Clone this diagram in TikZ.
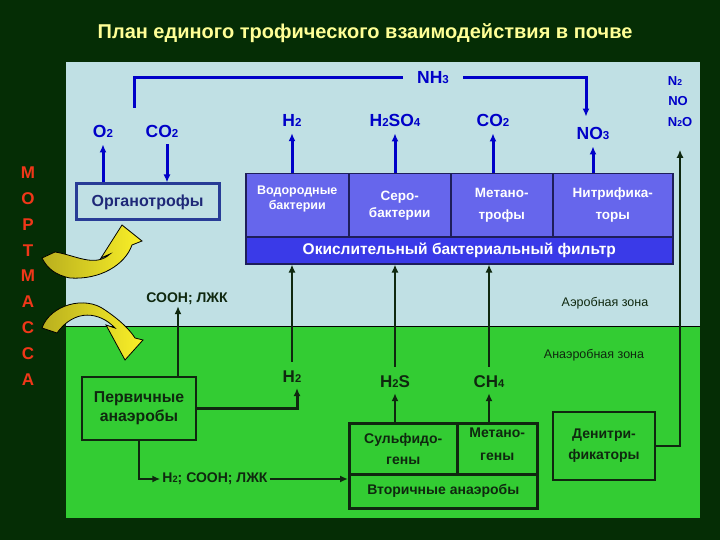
\documentclass[tikz,border=0pt]{standalone}
\usepackage{fontspec}
\setmainfont{Liberation Sans}
\usetikzlibrary{arrows.meta,positioning}

\definecolor{bgdark}{RGB}{5,45,5}
\definecolor{skyback}{RGB}{192,224,228}
\definecolor{grass}{RGB}{51,204,51}
\definecolor{cellblue}{RGB}{102,102,236}
\definecolor{filterblue}{RGB}{58,58,232}
\definecolor{cellline}{RGB}{30,30,90}
\definecolor{labelblue}{RGB}{0,0,200}
\definecolor{orgline}{RGB}{40,60,150}
\definecolor{orgtext}{RGB}{30,40,120}
\definecolor{darkink}{RGB}{15,40,15}
\definecolor{titleyellow}{RGB}{255,255,150}
\definecolor{mred}{RGB}{240,55,25}
\definecolor{arrowdim}{RGB}{185,175,30}
\definecolor{arrowlit}{RGB}{250,240,40}

\newcommand{\lo}[1]{\scalebox{0.66}{#1}}

\tikzset{
  toplbl/.style={font=\bfseries\fontsize{17.5}{19}\selectfont, text=labelblue, inner sep=1pt},
  gaslbl/.style={font=\bfseries\fontsize{13}{15}\selectfont, text=labelblue, inner sep=1pt},
  lowlbl/.style={font=\bfseries\fontsize{17}{19}\selectfont, text=darkink, inner sep=1pt},
  zonelbl/.style={font=\fontsize{12.5}{14}\selectfont, text=darkink, inner sep=1pt},
  mletter/.style={font=\bfseries\fontsize{17}{19}\selectfont, text=mred},
  bluecell/.style={draw=cellline, fill=cellblue, line width=1.5pt, anchor=north west,
    inner sep=0pt, text=white, align=center, font=\bfseries\fontsize{13.5}{17}\selectfont},
  greenbox/.style={draw=darkink, fill=grass, line width=2.5pt, inner sep=0pt,
    text=darkink, align=center, font=\bfseries\fontsize{14}{21}\selectfont},
  orgbox/.style={draw=orgline, fill=skyback, line width=3pt, inner sep=0pt,
    text=orgtext, font=\bfseries\fontsize{16}{18}\selectfont},
  blueline/.style={draw=labelblue, line width=3pt},
  blkline/.style={draw=darkink, line width=2pt},
  yarrow/.style={left color=arrowdim, right color=arrowlit, draw=black, line width=0.8pt}
}

\begin{document}
\begin{tikzpicture}[x=1pt, y=-1pt, >={Latex[length=8pt,width=7pt]}]
  \fill[bgdark] (0,0) rectangle (720,540);
  \useasboundingbox (0,0) rectangle (720,540);

  % zones
  \fill[skyback] (66,62) rectangle (700,326);
  \fill[grass] (66,326) rectangle (700,518);
  \draw[black, line width=1pt] (66,326) -- (700,326);

  \node[font=\bfseries\fontsize{20}{22}\selectfont, text=titleyellow] (title) at (365,33)
    {План единого трофического взаимодействия в почве};

  % mortmassa
  \foreach \ch [count=\i] in {М,О,Р,Т,М,А,С,С,А}
    \node[mletter] (m\i) at (28,{147+25.8*\i}) {\ch};

  % top labels
  \node[toplbl, inner xsep=14pt] (nh3) at (433,78) {NH\lo{3}};
  \node[toplbl] (o2) at (103,131) {O\lo{2}};
  \node[toplbl] (co2a) at (162,131) {CO\lo{2}};
  \node[toplbl] (h2a) at (292,120) {H\lo{2}};
  \node[toplbl] (h2so4) at (395,120) {H\lo{2}SO\lo{4}};
  \node[toplbl] (co2b) at (493,120) {CO\lo{2}};
  \node[toplbl] (no3) at (593,133) {NO\lo{3}};
  \node[gaslbl] (n2) at (675,81) {N\lo{2}};
  \node[gaslbl] (no) at (678,101) {NO};
  \node[gaslbl] (n2o) at (680,122) {N\lo{2}O};

  % aerobic organisms
  \node[orgbox, minimum width=143pt, minimum height=36pt] (organ) at (147.5,202) {Органотрофы};

  \node[bluecell, minimum width=103pt, minimum height=63pt,
    font=\bfseries\fontsize{12.5}{15}\selectfont] (vodor) at (245,173)
    {Водородные\\бактерии\\ \mbox{}};
  \node[bluecell, minimum width=102pt, minimum height=63pt] (sero) at (348,173) {Серо-\\бактерии};
  \node[bluecell, minimum width=102pt, minimum height=63pt,
    font=\bfseries\fontsize{13.5}{22}\selectfont] (metan) at (450,173) {Метано-\\трофы};
  \node[bluecell, minimum width=120pt, minimum height=63pt,
    font=\bfseries\fontsize{13.5}{22}\selectfont] (nitr) at (552,173) {Нитрифика-\\торы};
  \node[bluecell, fill=filterblue, minimum width=427pt, minimum height=27pt,
    font=\bfseries\fontsize{15.5}{17}\selectfont] (filtr) at (245,236)
    {Окислительный бактериальный фильтр};

  % lower labels
  \node[font=\bfseries\fontsize{14}{16}\selectfont, text=darkink, inner sep=1pt] (cooh) at (187,299) {СООН; ЛЖК};
  \node[zonelbl] (aer) at (605,303) {Аэробная зона};
  \node[zonelbl] (anaer) at (594,355) {Анаэробная зона};
  \node[lowlbl] (h2b) at (292,377) {H\lo{2}};
  \node[lowlbl] (h2s) at (395,382) {H\lo{2}S};
  \node[lowlbl] (ch4) at (489,382) {CH\lo{4}};
  \node[font=\bfseries\fontsize{14}{16}\selectfont, text=darkink, inner sep=2pt] (mix) at (215,479) {H\lo{2}; СООН; ЛЖК};

  % anaerobic organisms
  \node[greenbox, font=\bfseries\fontsize{15.8}{19}\selectfont, minimum width=114pt, minimum height=63pt]
    (perv) at (139,408.5) {Первичные\\анаэробы};
  \node[greenbox, anchor=north west, minimum width=108pt, minimum height=51pt] (sulf) at (348,422) {Сульфидо-\\гены};
  \node[greenbox, anchor=north west, minimum width=80pt, minimum height=51pt,
    font=\bfseries\fontsize{14}{23}\selectfont] (metg) at (456,422) {Метано-\\гены\\[-14pt]\mbox{}};
  \node[greenbox, anchor=north west, minimum width=188pt, minimum height=34pt] (vbar) at (348,473) {Вторичные анаэробы};
  \node[greenbox, minimum width=102pt, minimum height=68pt] (denitr) at (604,446) {Денитри-\\фикаторы};

  % yellow arrows
  \shadedraw[yarrow] (42,258) -- (55,252) .. controls (75,255) and (95,268) .. (110,254)
    -- (101,258) -- (122,225) -- (142,241) -- (132,245)
    .. controls (125,265) and (100,280) .. (70,278) .. controls (55,275) and (47,268) .. cycle;
  \shadedraw[yarrow] (42,328) .. controls (50,305) and (85,295) .. (105,310)
    .. controls (120,320) and (130,330) .. (135,338) -- (143,340) -- (125,360)
    -- (106,325) -- (115,328) .. controls (100,312) and (75,308) .. (57,333) -- cycle;

  % blue connectors
  \coordinate (nhleft) at (134,108);
  \draw[blueline] (nh3.west) -| (nhleft);
  \draw[blueline,->] (nh3.east) -| ([xshift=-7pt,yshift=9pt]no3.north);
  \draw[blueline,->,shorten >=6pt] (organ.north -| o2) -- (o2.south);
  \draw[blueline,->,shorten <=6pt] ([xshift=5pt]co2a.south) -- ([xshift=5pt]co2a.south |- organ.north);
  \draw[blueline,->,shorten >=6pt] (h2a |- vodor.north) -- (h2a.south);
  \draw[blueline,->,shorten >=6pt] (h2so4 |- sero.north) -- (h2so4.south);
  \draw[blueline,->,shorten >=6pt] (co2b |- metan.north) -- (co2b.south);
  \draw[blueline,->,shorten >=6pt] (no3 |- nitr.north) -- (no3.south);

  % black connectors
  \draw[blkline,->,shorten <=8pt] (h2b.north) -- (h2b.north |- filtr.south);
  \draw[blkline,->,shorten <=8pt] (h2s.north) -- (h2s.north |- filtr.south);
  \draw[blkline,->,shorten <=8pt] (ch4.north) -- (ch4.north |- filtr.south);
  \draw[blkline,->] (denitr.east) -| ([yshift=-22pt]n2o.south);
  \draw[blkline,->] ([xshift=-9pt]cooh.south |- perv.north) -- ([xshift=-9pt]cooh.south);
  \draw[blkline,->,line width=3pt] (perv.east) -| ([xshift=5pt,yshift=-4pt]h2b.south);
  \draw[blkline,->] (perv.south) |- (mix.west);
  \draw[blkline,->] (mix.east) -- (mix.east -| vbar.west);
  \draw[blkline,->] (sulf.north -| h2s) -- ([yshift=-4pt]h2s.south);
  \draw[blkline,->] (metg.north -| ch4) -- ([yshift=-4pt]ch4.south);
\end{tikzpicture}
\end{document}
